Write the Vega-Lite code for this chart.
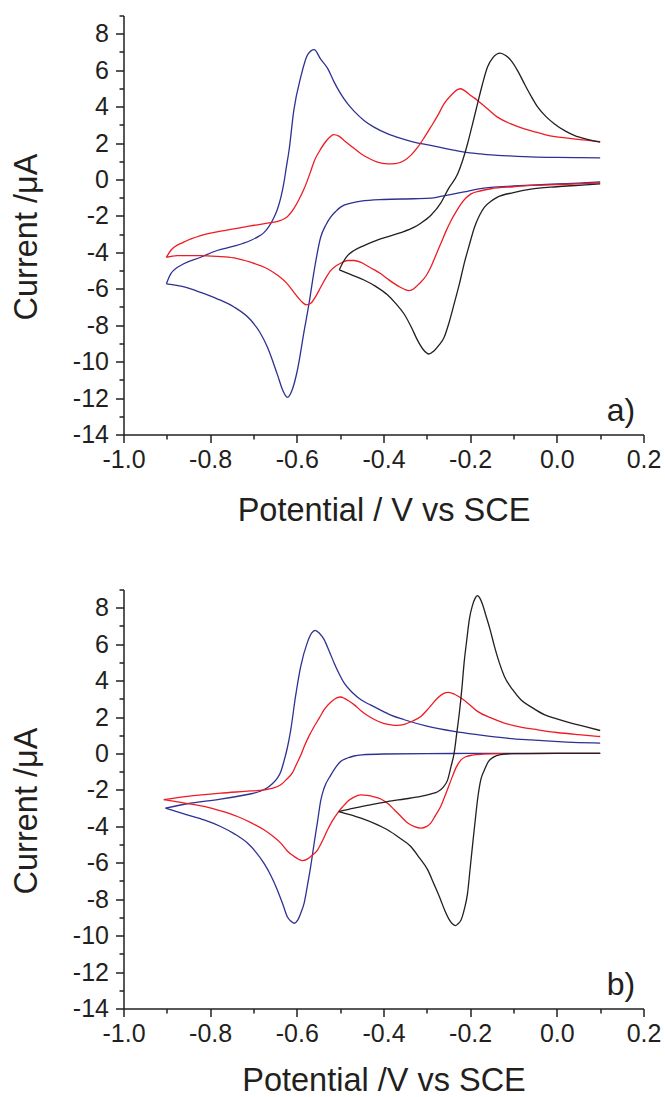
{
 "$schema": "https://vega.github.io/schema/vega-lite/v6.json",
 "padding": {"left": 10.5, "top": 3.5, "right": 5, "bottom": 0},
 "bounds": "flush",
 "spacing": 155,
 "background": "white",
 "config": {
  "view": {"stroke": null},
  "font": "Liberation Sans",
  "axis": {"domainColor": "#231f20", "domainWidth": 1.5, "tickColor": "#231f20", "tickWidth": 1.5, "labelFont": "Liberation Sans", "labelFontSize": 25, "labelColor": "#231f20", "titleFont": "Liberation Sans", "titleFontSize": 32.5, "titleFontWeight": "normal", "titleColor": "#231f20", "grid": false, "labelFlush": false, "labelOverlap": false}
 },
 "datasets": {
  "pa": [
   {"c":"blue","b":"u","E":-0.901,"I":-5.73},{"c":"blue","b":"u","E":-0.891,"I":-5.18},{"c":"blue","b":"u","E":-0.861,"I":-4.63},{"c":"blue","b":"u","E":-0.822,"I":-4.27},{"c":"blue","b":"u","E":-0.784,"I":-3.9},{"c":"blue","b":"u","E":-0.745,"I":-3.66},{"c":"blue","b":"u","E":-0.707,"I":-3.35},{"c":"blue","b":"u","E":-0.69,"I":-3.15},{"c":"blue","b":"u","E":-0.676,"I":-2.92},{"c":"blue","b":"u","E":-0.665,"I":-2.6},{"c":"blue","b":"u","E":-0.655,"I":-2.2},{"c":"blue","b":"u","E":-0.645,"I":-1.65},{"c":"blue","b":"u","E":-0.637,"I":-1.0},{"c":"blue","b":"u","E":-0.63,"I":-0.2},{"c":"blue","b":"u","E":-0.624,"I":0.7},{"c":"blue","b":"u","E":-0.618,"I":1.59},{"c":"blue","b":"u","E":-0.607,"I":3.79},{"c":"blue","b":"u","E":-0.591,"I":5.62},{"c":"blue","b":"u","E":-0.575,"I":6.85},{"c":"blue","b":"u","E":-0.56,"I":7.13},{"c":"blue","b":"u","E":-0.545,"I":6.6},{"c":"blue","b":"u","E":-0.529,"I":6.1},{"c":"blue","b":"u","E":-0.515,"I":5.4},{"c":"blue","b":"u","E":-0.499,"I":4.71},{"c":"blue","b":"u","E":-0.483,"I":4.16},{"c":"blue","b":"u","E":-0.468,"I":3.75},{"c":"blue","b":"u","E":-0.445,"I":3.24},{"c":"blue","b":"u","E":-0.422,"I":2.87},{"c":"blue","b":"u","E":-0.39,"I":2.5},{"c":"blue","b":"u","E":-0.36,"I":2.25},{"c":"blue","b":"u","E":-0.33,"I":2.05},{"c":"blue","b":"u","E":-0.291,"I":1.87},{"c":"blue","b":"u","E":-0.25,"I":1.66},{"c":"blue","b":"u","E":-0.214,"I":1.5},{"c":"blue","b":"u","E":-0.175,"I":1.4},{"c":"blue","b":"u","E":-0.137,"I":1.32},{"c":"blue","b":"u","E":-0.1,"I":1.28},{"c":"blue","b":"u","E":-0.06,"I":1.24},{"c":"blue","b":"u","E":0,"I":1.21},{"c":"blue","b":"u","E":0.05,"I":1.2},{"c":"blue","b":"u","E":0.1,"I":1.19},
   {"c":"blue","b":"d","E":-0.901,"I":-5.73},{"c":"blue","b":"d","E":-0.86,"I":-5.9},{"c":"blue","b":"d","E":-0.822,"I":-6.2},{"c":"blue","b":"d","E":-0.784,"I":-6.55},{"c":"blue","b":"d","E":-0.745,"I":-7.0},{"c":"blue","b":"d","E":-0.707,"I":-7.7},{"c":"blue","b":"d","E":-0.685,"I":-8.4},{"c":"blue","b":"d","E":-0.668,"I":-9.2},{"c":"blue","b":"d","E":-0.645,"I":-10.7},{"c":"blue","b":"d","E":-0.632,"I":-11.6},{"c":"blue","b":"d","E":-0.622,"I":-11.96},{"c":"blue","b":"d","E":-0.61,"I":-11.5},{"c":"blue","b":"d","E":-0.599,"I":-10.5},{"c":"blue","b":"d","E":-0.583,"I":-8.3},{"c":"blue","b":"d","E":-0.572,"I":-6.83},{"c":"blue","b":"d","E":-0.56,"I":-5.0},{"c":"blue","b":"d","E":-0.545,"I":-3.17},{"c":"blue","b":"d","E":-0.533,"I":-2.5},{"c":"blue","b":"d","E":-0.522,"I":-2.07},{"c":"blue","b":"d","E":-0.51,"I":-1.75},{"c":"blue","b":"d","E":-0.499,"I":-1.52},{"c":"blue","b":"d","E":-0.475,"I":-1.3},{"c":"blue","b":"d","E":-0.452,"I":-1.19},{"c":"blue","b":"d","E":-0.4,"I":-1.1},{"c":"blue","b":"d","E":-0.33,"I":-1.06},{"c":"blue","b":"d","E":-0.29,"I":-1.03},{"c":"blue","b":"d","E":-0.268,"I":-0.93},{"c":"blue","b":"d","E":-0.24,"I":-0.8},{"c":"blue","b":"d","E":-0.214,"I":-0.68},{"c":"blue","b":"d","E":-0.18,"I":-0.52},{"c":"blue","b":"d","E":-0.152,"I":-0.44},{"c":"blue","b":"d","E":-0.1,"I":-0.36},{"c":"blue","b":"d","E":-0.06,"I":-0.31},{"c":"blue","b":"d","E":0,"I":-0.25},{"c":"blue","b":"d","E":0.05,"I":-0.2},{"c":"blue","b":"d","E":0.1,"I":-0.13},
   {"c":"red","b":"u","E":-0.901,"I":-4.27},{"c":"red","b":"u","E":-0.891,"I":-3.9},{"c":"red","b":"u","E":-0.861,"I":-3.44},{"c":"red","b":"u","E":-0.822,"I":-3.08},{"c":"red","b":"u","E":-0.784,"I":-2.88},{"c":"red","b":"u","E":-0.745,"I":-2.71},{"c":"red","b":"u","E":-0.707,"I":-2.55},{"c":"red","b":"u","E":-0.668,"I":-2.4},{"c":"red","b":"u","E":-0.637,"I":-2.25},{"c":"red","b":"u","E":-0.622,"I":-2.05},{"c":"red","b":"u","E":-0.607,"I":-1.6},{"c":"red","b":"u","E":-0.595,"I":-1.1},{"c":"red","b":"u","E":-0.583,"I":-0.5},{"c":"red","b":"u","E":-0.568,"I":0.45},{"c":"red","b":"u","E":-0.56,"I":1.0},{"c":"red","b":"u","E":-0.548,"I":1.55},{"c":"red","b":"u","E":-0.537,"I":1.96},{"c":"red","b":"u","E":-0.525,"I":2.3},{"c":"red","b":"u","E":-0.515,"I":2.46},{"c":"red","b":"u","E":-0.503,"I":2.38},{"c":"red","b":"u","E":-0.491,"I":2.14},{"c":"red","b":"u","E":-0.472,"I":1.78},{"c":"red","b":"u","E":-0.452,"I":1.41},{"c":"red","b":"u","E":-0.433,"I":1.15},{"c":"red","b":"u","E":-0.414,"I":0.95},{"c":"red","b":"u","E":-0.39,"I":0.86},{"c":"red","b":"u","E":-0.372,"I":0.87},{"c":"red","b":"u","E":-0.352,"I":1.04},{"c":"red","b":"u","E":-0.336,"I":1.35},{"c":"red","b":"u","E":-0.321,"I":1.77},{"c":"red","b":"u","E":-0.306,"I":2.3},{"c":"red","b":"u","E":-0.291,"I":2.87},{"c":"red","b":"u","E":-0.275,"I":3.5},{"c":"red","b":"u","E":-0.26,"I":4.16},{"c":"red","b":"u","E":-0.243,"I":4.65},{"c":"red","b":"u","E":-0.228,"I":4.95},{"c":"red","b":"u","E":-0.222,"I":4.98},{"c":"red","b":"u","E":-0.214,"I":4.89},{"c":"red","b":"u","E":-0.198,"I":4.6},{"c":"red","b":"u","E":-0.183,"I":4.34},{"c":"red","b":"u","E":-0.16,"I":3.88},{"c":"red","b":"u","E":-0.137,"I":3.42},{"c":"red","b":"u","E":-0.106,"I":3.05},{"c":"red","b":"u","E":-0.075,"I":2.78},{"c":"red","b":"u","E":-0.045,"I":2.58},{"c":"red","b":"u","E":-0.021,"I":2.42},{"c":"red","b":"u","E":0.02,"I":2.28},{"c":"red","b":"u","E":0.06,"I":2.17},{"c":"red","b":"u","E":0.1,"I":2.08},
   {"c":"red","b":"d","E":-0.901,"I":-4.27},{"c":"red","b":"d","E":-0.876,"I":-4.18},{"c":"red","b":"d","E":-0.822,"I":-4.18},{"c":"red","b":"d","E":-0.784,"I":-4.22},{"c":"red","b":"d","E":-0.745,"I":-4.3},{"c":"red","b":"d","E":-0.707,"I":-4.54},{"c":"red","b":"d","E":-0.668,"I":-4.9},{"c":"red","b":"d","E":-0.645,"I":-5.25},{"c":"red","b":"d","E":-0.622,"I":-5.73},{"c":"red","b":"d","E":-0.605,"I":-6.25},{"c":"red","b":"d","E":-0.591,"I":-6.65},{"c":"red","b":"d","E":-0.578,"I":-6.88},{"c":"red","b":"d","E":-0.568,"I":-6.8},{"c":"red","b":"d","E":-0.556,"I":-6.4},{"c":"red","b":"d","E":-0.545,"I":-5.92},{"c":"red","b":"d","E":-0.533,"I":-5.4},{"c":"red","b":"d","E":-0.522,"I":-5.0},{"c":"red","b":"d","E":-0.51,"I":-4.75},{"c":"red","b":"d","E":-0.499,"I":-4.6},{"c":"red","b":"d","E":-0.483,"I":-4.45},{"c":"red","b":"d","E":-0.468,"I":-4.45},{"c":"red","b":"d","E":-0.452,"I":-4.55},{"c":"red","b":"d","E":-0.437,"I":-4.75},{"c":"red","b":"d","E":-0.422,"I":-4.95},{"c":"red","b":"d","E":-0.406,"I":-5.18},{"c":"red","b":"d","E":-0.391,"I":-5.45},{"c":"red","b":"d","E":-0.375,"I":-5.72},{"c":"red","b":"d","E":-0.36,"I":-5.93},{"c":"red","b":"d","E":-0.35,"I":-6.05},{"c":"red","b":"d","E":-0.341,"I":-6.1},{"c":"red","b":"d","E":-0.33,"I":-6.0},{"c":"red","b":"d","E":-0.321,"I":-5.8},{"c":"red","b":"d","E":-0.314,"I":-5.64},{"c":"red","b":"d","E":-0.302,"I":-5.3},{"c":"red","b":"d","E":-0.291,"I":-4.82},{"c":"red","b":"d","E":-0.28,"I":-4.2},{"c":"red","b":"d","E":-0.268,"I":-3.53},{"c":"red","b":"d","E":-0.256,"I":-2.85},{"c":"red","b":"d","E":-0.244,"I":-2.25},{"c":"red","b":"d","E":-0.232,"I":-1.75},{"c":"red","b":"d","E":-0.221,"I":-1.34},{"c":"red","b":"d","E":-0.21,"I":-1.02},{"c":"red","b":"d","E":-0.198,"I":-0.79},{"c":"red","b":"d","E":-0.175,"I":-0.62},{"c":"red","b":"d","E":-0.152,"I":-0.51},{"c":"red","b":"d","E":-0.1,"I":-0.4},{"c":"red","b":"d","E":-0.06,"I":-0.33},{"c":"red","b":"d","E":0,"I":-0.28},{"c":"red","b":"d","E":0.05,"I":-0.24},{"c":"red","b":"d","E":0.1,"I":-0.18},
   {"c":"black","b":"u","E":-0.502,"I":-4.96},{"c":"black","b":"u","E":-0.491,"I":-4.45},{"c":"black","b":"u","E":-0.483,"I":-4.18},{"c":"black","b":"u","E":-0.468,"I":-3.9},{"c":"black","b":"u","E":-0.445,"I":-3.63},{"c":"black","b":"u","E":-0.422,"I":-3.4},{"c":"black","b":"u","E":-0.391,"I":-3.15},{"c":"black","b":"u","E":-0.36,"I":-2.92},{"c":"black","b":"u","E":-0.329,"I":-2.62},{"c":"black","b":"u","E":-0.314,"I":-2.4},{"c":"black","b":"u","E":-0.29,"I":-1.95},{"c":"black","b":"u","E":-0.268,"I":-1.3},{"c":"black","b":"u","E":-0.25,"I":-0.5},{"c":"black","b":"u","E":-0.229,"I":0.3},{"c":"black","b":"u","E":-0.218,"I":1.0},{"c":"black","b":"u","E":-0.206,"I":1.96},{"c":"black","b":"u","E":-0.195,"I":3.0},{"c":"black","b":"u","E":-0.183,"I":4.16},{"c":"black","b":"u","E":-0.172,"I":5.2},{"c":"black","b":"u","E":-0.16,"I":6.17},{"c":"black","b":"u","E":-0.147,"I":6.7},{"c":"black","b":"u","E":-0.131,"I":6.94},{"c":"black","b":"u","E":-0.118,"I":6.8},{"c":"black","b":"u","E":-0.106,"I":6.54},{"c":"black","b":"u","E":-0.09,"I":5.95},{"c":"black","b":"u","E":-0.075,"I":5.26},{"c":"black","b":"u","E":-0.06,"I":4.6},{"c":"black","b":"u","E":-0.044,"I":3.97},{"c":"black","b":"u","E":-0.025,"I":3.45},{"c":"black","b":"u","E":-0.006,"I":3.06},{"c":"black","b":"u","E":0.02,"I":2.65},{"c":"black","b":"u","E":0.04,"I":2.42},{"c":"black","b":"u","E":0.07,"I":2.2},{"c":"black","b":"u","E":0.1,"I":2.05},
   {"c":"black","b":"d","E":-0.502,"I":-4.96},{"c":"black","b":"d","E":-0.475,"I":-5.22},{"c":"black","b":"d","E":-0.445,"I":-5.52},{"c":"black","b":"d","E":-0.418,"I":-5.87},{"c":"black","b":"d","E":-0.391,"I":-6.33},{"c":"black","b":"d","E":-0.372,"I":-6.8},{"c":"black","b":"d","E":-0.352,"I":-7.4},{"c":"black","b":"d","E":-0.336,"I":-8.1},{"c":"black","b":"d","E":-0.321,"I":-8.85},{"c":"black","b":"d","E":-0.308,"I":-9.35},{"c":"black","b":"d","E":-0.295,"I":-9.58},{"c":"black","b":"d","E":-0.283,"I":-9.4},{"c":"black","b":"d","E":-0.272,"I":-9.1},{"c":"black","b":"d","E":-0.26,"I":-8.66},{"c":"black","b":"d","E":-0.248,"I":-7.8},{"c":"black","b":"d","E":-0.237,"I":-6.83},{"c":"black","b":"d","E":-0.225,"I":-5.75},{"c":"black","b":"d","E":-0.214,"I":-4.63},{"c":"black","b":"d","E":-0.202,"I":-3.6},{"c":"black","b":"d","E":-0.19,"I":-2.62},{"c":"black","b":"d","E":-0.178,"I":-1.95},{"c":"black","b":"d","E":-0.167,"I":-1.52},{"c":"black","b":"d","E":-0.152,"I":-1.2},{"c":"black","b":"d","E":-0.137,"I":-0.97},{"c":"black","b":"d","E":-0.1,"I":-0.72},{"c":"black","b":"d","E":-0.06,"I":-0.53},{"c":"black","b":"d","E":0,"I":-0.4},{"c":"black","b":"d","E":0.05,"I":-0.32},{"c":"black","b":"d","E":0.1,"I":-0.24}
  ],
  "pb": [
   {"c":"blue","b":"u","E":-0.903,"I":-3.0},{"c":"blue","b":"u","E":-0.853,"I":-2.76},{"c":"blue","b":"u","E":-0.776,"I":-2.51},{"c":"blue","b":"u","E":-0.72,"I":-2.28},{"c":"blue","b":"u","E":-0.699,"I":-2.18},{"c":"blue","b":"u","E":-0.683,"I":-2.06},{"c":"blue","b":"u","E":-0.668,"I":-1.88},{"c":"blue","b":"u","E":-0.656,"I":-1.65},{"c":"blue","b":"u","E":-0.645,"I":-1.35},{"c":"blue","b":"u","E":-0.637,"I":-1.0},{"c":"blue","b":"u","E":-0.63,"I":-0.45},{"c":"blue","b":"u","E":-0.622,"I":0.3},{"c":"blue","b":"u","E":-0.614,"I":1.3},{"c":"blue","b":"u","E":-0.603,"I":3.13},{"c":"blue","b":"u","E":-0.591,"I":4.78},{"c":"blue","b":"u","E":-0.576,"I":6.07},{"c":"blue","b":"u","E":-0.566,"I":6.6},{"c":"blue","b":"u","E":-0.558,"I":6.76},{"c":"blue","b":"u","E":-0.548,"I":6.6},{"c":"blue","b":"u","E":-0.537,"I":6.25},{"c":"blue","b":"u","E":-0.525,"I":5.6},{"c":"blue","b":"u","E":-0.514,"I":4.97},{"c":"blue","b":"u","E":-0.503,"I":4.4},{"c":"blue","b":"u","E":-0.491,"I":3.87},{"c":"blue","b":"u","E":-0.472,"I":3.35},{"c":"blue","b":"u","E":-0.452,"I":2.95},{"c":"blue","b":"u","E":-0.429,"I":2.65},{"c":"blue","b":"u","E":-0.4,"I":2.3},{"c":"blue","b":"u","E":-0.383,"I":2.1},{"c":"blue","b":"u","E":-0.352,"I":1.85},{"c":"blue","b":"u","E":-0.3,"I":1.5},{"c":"blue","b":"u","E":-0.237,"I":1.21},{"c":"blue","b":"u","E":-0.18,"I":1.02},{"c":"blue","b":"u","E":-0.121,"I":0.85},{"c":"blue","b":"u","E":-0.06,"I":0.74},{"c":"blue","b":"u","E":-0.006,"I":0.66},{"c":"blue","b":"u","E":0.05,"I":0.6},{"c":"blue","b":"u","E":0.1,"I":0.57},
   {"c":"blue","b":"d","E":-0.903,"I":-3.0},{"c":"blue","b":"d","E":-0.853,"I":-3.37},{"c":"blue","b":"d","E":-0.814,"I":-3.65},{"c":"blue","b":"d","E":-0.776,"I":-4.01},{"c":"blue","b":"d","E":-0.745,"I":-4.4},{"c":"blue","b":"d","E":-0.714,"I":-4.92},{"c":"blue","b":"d","E":-0.695,"I":-5.4},{"c":"blue","b":"d","E":-0.676,"I":-6.02},{"c":"blue","b":"d","E":-0.66,"I":-6.7},{"c":"blue","b":"d","E":-0.645,"I":-7.49},{"c":"blue","b":"d","E":-0.632,"I":-8.3},{"c":"blue","b":"d","E":-0.622,"I":-8.96},{"c":"blue","b":"d","E":-0.614,"I":-9.2},{"c":"blue","b":"d","E":-0.606,"I":-9.32},{"c":"blue","b":"d","E":-0.598,"I":-9.15},{"c":"blue","b":"d","E":-0.591,"I":-8.77},{"c":"blue","b":"d","E":-0.583,"I":-8.2},{"c":"blue","b":"d","E":-0.576,"I":-7.31},{"c":"blue","b":"d","E":-0.568,"I":-6.2},{"c":"blue","b":"d","E":-0.56,"I":-4.92},{"c":"blue","b":"d","E":-0.552,"I":-3.7},{"c":"blue","b":"d","E":-0.545,"I":-2.6},{"c":"blue","b":"d","E":-0.537,"I":-1.9},{"c":"blue","b":"d","E":-0.522,"I":-1.2},{"c":"blue","b":"d","E":-0.51,"I":-0.75},{"c":"blue","b":"d","E":-0.499,"I":-0.44},{"c":"blue","b":"d","E":-0.483,"I":-0.25},{"c":"blue","b":"d","E":-0.468,"I":-0.14},{"c":"blue","b":"d","E":-0.45,"I":-0.08},{"c":"blue","b":"d","E":-0.4,"I":-0.03},{"c":"blue","b":"d","E":-0.3,"I":-0.01},{"c":"blue","b":"d","E":-0.2,"I":0},{"c":"blue","b":"d","E":0,"I":0},{"c":"blue","b":"d","E":0.1,"I":0},
   {"c":"red","b":"u","E":-0.907,"I":-2.54},{"c":"red","b":"u","E":-0.853,"I":-2.36},{"c":"red","b":"u","E":-0.776,"I":-2.18},{"c":"red","b":"u","E":-0.72,"I":-2.08},{"c":"red","b":"u","E":-0.676,"I":-2.0},{"c":"red","b":"u","E":-0.655,"I":-1.9},{"c":"red","b":"u","E":-0.637,"I":-1.72},{"c":"red","b":"u","E":-0.625,"I":-1.45},{"c":"red","b":"u","E":-0.61,"I":-1.05},{"c":"red","b":"u","E":-0.599,"I":-0.5},{"c":"red","b":"u","E":-0.591,"I":-0.1},{"c":"red","b":"u","E":-0.583,"I":0.38},{"c":"red","b":"u","E":-0.572,"I":0.95},{"c":"red","b":"u","E":-0.56,"I":1.48},{"c":"red","b":"u","E":-0.548,"I":1.95},{"c":"red","b":"u","E":-0.537,"I":2.4},{"c":"red","b":"u","E":-0.52,"I":2.85},{"c":"red","b":"u","E":-0.508,"I":3.05},{"c":"red","b":"u","E":-0.499,"I":3.1},{"c":"red","b":"u","E":-0.49,"I":3.02},{"c":"red","b":"u","E":-0.48,"I":2.88},{"c":"red","b":"u","E":-0.468,"I":2.68},{"c":"red","b":"u","E":-0.452,"I":2.35},{"c":"red","b":"u","E":-0.437,"I":2.08},{"c":"red","b":"u","E":-0.42,"I":1.85},{"c":"red","b":"u","E":-0.4,"I":1.65},{"c":"red","b":"u","E":-0.383,"I":1.57},{"c":"red","b":"u","E":-0.368,"I":1.54},{"c":"red","b":"u","E":-0.352,"I":1.6},{"c":"red","b":"u","E":-0.333,"I":1.78},{"c":"red","b":"u","E":-0.314,"I":2.03},{"c":"red","b":"u","E":-0.295,"I":2.5},{"c":"red","b":"u","E":-0.275,"I":3.04},{"c":"red","b":"u","E":-0.262,"I":3.28},{"c":"red","b":"u","E":-0.25,"I":3.35},{"c":"red","b":"u","E":-0.236,"I":3.25},{"c":"red","b":"u","E":-0.221,"I":3.04},{"c":"red","b":"u","E":-0.2,"I":2.65},{"c":"red","b":"u","E":-0.183,"I":2.31},{"c":"red","b":"u","E":-0.152,"I":1.95},{"c":"red","b":"u","E":-0.121,"I":1.67},{"c":"red","b":"u","E":-0.083,"I":1.45},{"c":"red","b":"u","E":-0.044,"I":1.3},{"c":"red","b":"u","E":0,"I":1.15},{"c":"red","b":"u","E":0.05,"I":1.03},{"c":"red","b":"u","E":0.1,"I":0.93},
   {"c":"red","b":"d","E":-0.907,"I":-2.54},{"c":"red","b":"d","E":-0.868,"I":-2.69},{"c":"red","b":"d","E":-0.814,"I":-2.91},{"c":"red","b":"d","E":-0.776,"I":-3.15},{"c":"red","b":"d","E":-0.737,"I":-3.46},{"c":"red","b":"d","E":-0.706,"I":-3.8},{"c":"red","b":"d","E":-0.676,"I":-4.19},{"c":"red","b":"d","E":-0.655,"I":-4.55},{"c":"red","b":"d","E":-0.637,"I":-4.92},{"c":"red","b":"d","E":-0.622,"I":-5.35},{"c":"red","b":"d","E":-0.606,"I":-5.66},{"c":"red","b":"d","E":-0.595,"I":-5.82},{"c":"red","b":"d","E":-0.587,"I":-5.88},{"c":"red","b":"d","E":-0.576,"I":-5.8},{"c":"red","b":"d","E":-0.568,"I":-5.66},{"c":"red","b":"d","E":-0.552,"I":-5.29},{"c":"red","b":"d","E":-0.54,"I":-4.75},{"c":"red","b":"d","E":-0.529,"I":-4.19},{"c":"red","b":"d","E":-0.518,"I":-3.7},{"c":"red","b":"d","E":-0.506,"I":-3.27},{"c":"red","b":"d","E":-0.495,"I":-2.95},{"c":"red","b":"d","E":-0.483,"I":-2.64},{"c":"red","b":"d","E":-0.468,"I":-2.4},{"c":"red","b":"d","E":-0.452,"I":-2.27},{"c":"red","b":"d","E":-0.437,"I":-2.3},{"c":"red","b":"d","E":-0.422,"I":-2.38},{"c":"red","b":"d","E":-0.406,"I":-2.5},{"c":"red","b":"d","E":-0.39,"I":-2.75},{"c":"red","b":"d","E":-0.375,"I":-3.09},{"c":"red","b":"d","E":-0.36,"I":-3.45},{"c":"red","b":"d","E":-0.344,"I":-3.82},{"c":"red","b":"d","E":-0.33,"I":-4.0},{"c":"red","b":"d","E":-0.314,"I":-4.1},{"c":"red","b":"d","E":-0.3,"I":-4.0},{"c":"red","b":"d","E":-0.291,"I":-3.82},{"c":"red","b":"d","E":-0.28,"I":-3.4},{"c":"red","b":"d","E":-0.268,"I":-2.91},{"c":"red","b":"d","E":-0.256,"I":-2.2},{"c":"red","b":"d","E":-0.244,"I":-1.45},{"c":"red","b":"d","E":-0.232,"I":-0.75},{"c":"red","b":"d","E":-0.221,"I":-0.35},{"c":"red","b":"d","E":-0.21,"I":-0.18},{"c":"red","b":"d","E":-0.195,"I":-0.09},{"c":"red","b":"d","E":-0.17,"I":-0.04},{"c":"red","b":"d","E":-0.13,"I":-0.01},{"c":"red","b":"d","E":0,"I":0},{"c":"red","b":"d","E":0.1,"I":0},
   {"c":"black","b":"u","E":-0.503,"I":-3.19},{"c":"black","b":"u","E":-0.468,"I":-3.0},{"c":"black","b":"u","E":-0.43,"I":-2.82},{"c":"black","b":"u","E":-0.391,"I":-2.64},{"c":"black","b":"u","E":-0.352,"I":-2.5},{"c":"black","b":"u","E":-0.314,"I":-2.36},{"c":"black","b":"u","E":-0.29,"I":-2.22},{"c":"black","b":"u","E":-0.275,"I":-2.1},{"c":"black","b":"u","E":-0.262,"I":-1.85},{"c":"black","b":"u","E":-0.252,"I":-1.45},{"c":"black","b":"u","E":-0.244,"I":-0.7},{"c":"black","b":"u","E":-0.237,"I":0.02},{"c":"black","b":"u","E":-0.231,"I":1.1},{"c":"black","b":"u","E":-0.225,"I":2.22},{"c":"black","b":"u","E":-0.219,"I":3.6},{"c":"black","b":"u","E":-0.214,"I":4.97},{"c":"black","b":"u","E":-0.208,"I":6.2},{"c":"black","b":"u","E":-0.202,"I":7.35},{"c":"black","b":"u","E":-0.195,"I":8.1},{"c":"black","b":"u","E":-0.189,"I":8.5},{"c":"black","b":"u","E":-0.183,"I":8.66},{"c":"black","b":"u","E":-0.177,"I":8.5},{"c":"black","b":"u","E":-0.171,"I":8.15},{"c":"black","b":"u","E":-0.164,"I":7.6},{"c":"black","b":"u","E":-0.154,"I":6.8},{"c":"black","b":"u","E":-0.144,"I":5.88},{"c":"black","b":"u","E":-0.133,"I":5.0},{"c":"black","b":"u","E":-0.121,"I":4.23},{"c":"black","b":"u","E":-0.102,"I":3.5},{"c":"black","b":"u","E":-0.083,"I":2.95},{"c":"black","b":"u","E":-0.056,"I":2.5},{"c":"black","b":"u","E":-0.029,"I":2.13},{"c":"black","b":"u","E":0,"I":1.9},{"c":"black","b":"u","E":0.033,"I":1.67},{"c":"black","b":"u","E":0.07,"I":1.45},{"c":"black","b":"u","E":0.1,"I":1.26},
   {"c":"black","b":"d","E":-0.503,"I":-3.19},{"c":"black","b":"d","E":-0.452,"I":-3.55},{"c":"black","b":"d","E":-0.42,"I":-3.85},{"c":"black","b":"d","E":-0.391,"I":-4.19},{"c":"black","b":"d","E":-0.365,"I":-4.6},{"c":"black","b":"d","E":-0.337,"I":-5.11},{"c":"black","b":"d","E":-0.318,"I":-5.7},{"c":"black","b":"d","E":-0.298,"I":-6.39},{"c":"black","b":"d","E":-0.283,"I":-7.2},{"c":"black","b":"d","E":-0.268,"I":-8.04},{"c":"black","b":"d","E":-0.258,"I":-8.65},{"c":"black","b":"d","E":-0.248,"I":-9.14},{"c":"black","b":"d","E":-0.24,"I":-9.38},{"c":"black","b":"d","E":-0.234,"I":-9.45},{"c":"black","b":"d","E":-0.228,"I":-9.35},{"c":"black","b":"d","E":-0.221,"I":-9.14},{"c":"black","b":"d","E":-0.214,"I":-8.6},{"c":"black","b":"d","E":-0.206,"I":-7.67},{"c":"black","b":"d","E":-0.2,"I":-6.3},{"c":"black","b":"d","E":-0.194,"I":-4.92},{"c":"black","b":"d","E":-0.188,"I":-3.6},{"c":"black","b":"d","E":-0.183,"I":-2.54},{"c":"black","b":"d","E":-0.175,"I":-1.4},{"c":"black","b":"d","E":-0.167,"I":-0.9},{"c":"black","b":"d","E":-0.158,"I":-0.45},{"c":"black","b":"d","E":-0.146,"I":-0.2},{"c":"black","b":"d","E":-0.13,"I":-0.07},{"c":"black","b":"d","E":-0.1,"I":-0.01},{"c":"black","b":"d","E":0,"I":0},{"c":"black","b":"d","E":0.1,"I":0}
  ]
 },
 "vconcat": [
  {
   "width": 520, "height": 419,
   "encoding": {
    "x": {"field": "E", "type": "quantitative", "scale": {"domain": [-1, 0.2], "nice": false, "zero": false},
     "axis": {"title": "Potential / V vs SCE", "values": [-1,-0.9,-0.8,-0.7,-0.6,-0.5,-0.4,-0.3,-0.2,-0.1,0,0.1,0.2], "labelExpr": "round(datum.value*10)%2==0 ? replace(format(datum.value,'.1f'),'\u2212','-') : ''", "tickSize": {"condition": {"test": "round(datum.value*10)%2==0", "value": 8}, "value": 4.5}, "labelPadding": 5, "titleY": 86, "titleBaseline": "alphabetic"}},
    "y": {"field": "I", "type": "quantitative", "scale": {"domain": [-14, 9], "nice": false, "zero": false},
     "axis": {"title": "Current /\u03bcA", "values": [-14,-13,-12,-11,-10,-9,-8,-7,-6,-5,-4,-3,-2,-1,0,1,2,3,4,5,6,7,8,9], "labelExpr": "datum.value%2==0 ? replace(format(datum.value,'d'),'\u2212','-') : ''", "tickSize": {"condition": {"test": "datum.value%2==0", "value": 8}, "value": 4.5}, "labelPadding": 7, "titleX": -87, "titleY": 221, "titleBaseline": "alphabetic", "titleAngle": -90, "titleAlign": "center"}}
   },
   "layer": [
    {"data": {"name": "pa"}, "mark": {"type": "line", "interpolate": "monotone", "strokeWidth": 1.3},
     "encoding": {"color": {"field": "c", "type": "nominal", "scale": {"domain": ["black","red","blue"], "range": ["#231f20","#ed1c24","#2e3192"]}, "legend": null}, "detail": {"field": "b"}}},
    {"data": {"values": [{"E": 0.148, "I": -12.7, "t": "a)"}]}, "mark": {"type": "text", "fontSize": 32, "font": "Liberation Sans", "color": "#231f20", "align": "center", "baseline": "middle"},
     "encoding": {"text": {"field": "t"}}}
   ]
  },
  {
   "width": 520, "height": 419,
   "encoding": {
    "x": {"field": "E", "type": "quantitative", "scale": {"domain": [-1, 0.2], "nice": false, "zero": false},
     "axis": {"title": "Potential /V vs SCE", "values": [-1,-0.9,-0.8,-0.7,-0.6,-0.5,-0.4,-0.3,-0.2,-0.1,0,0.1,0.2], "labelExpr": "round(datum.value*10)%2==0 ? replace(format(datum.value,'.1f'),'\u2212','-') : ''", "tickSize": {"condition": {"test": "round(datum.value*10)%2==0", "value": 8}, "value": 4.5}, "labelPadding": 5, "titleY": 82, "titleBaseline": "alphabetic"}},
    "y": {"field": "I", "type": "quantitative", "scale": {"domain": [-14, 9], "nice": false, "zero": false},
     "axis": {"title": "Current /\u03bcA", "values": [-14,-13,-12,-11,-10,-9,-8,-7,-6,-5,-4,-3,-2,-1,0,1,2,3,4,5,6,7,8,9], "labelExpr": "datum.value%2==0 ? replace(format(datum.value,'d'),'\u2212','-') : ''", "tickSize": {"condition": {"test": "datum.value%2==0", "value": 8}, "value": 4.5}, "labelPadding": 7, "titleX": -87, "titleY": 221, "titleBaseline": "alphabetic", "titleAngle": -90, "titleAlign": "center"}}
   },
   "layer": [
    {"data": {"name": "pb"}, "mark": {"type": "line", "interpolate": "monotone", "strokeWidth": 1.3},
     "encoding": {"color": {"field": "c", "type": "nominal", "scale": {"domain": ["black","red","blue"], "range": ["#231f20","#ed1c24","#2e3192"]}, "legend": null}, "detail": {"field": "b"}}},
    {"data": {"values": [{"E": 0.148, "I": -12.7, "t": "b)"}]}, "mark": {"type": "text", "fontSize": 32, "font": "Liberation Sans", "color": "#231f20", "align": "center", "baseline": "middle"},
     "encoding": {"text": {"field": "t"}}}
   ]
  }
 ]
}
